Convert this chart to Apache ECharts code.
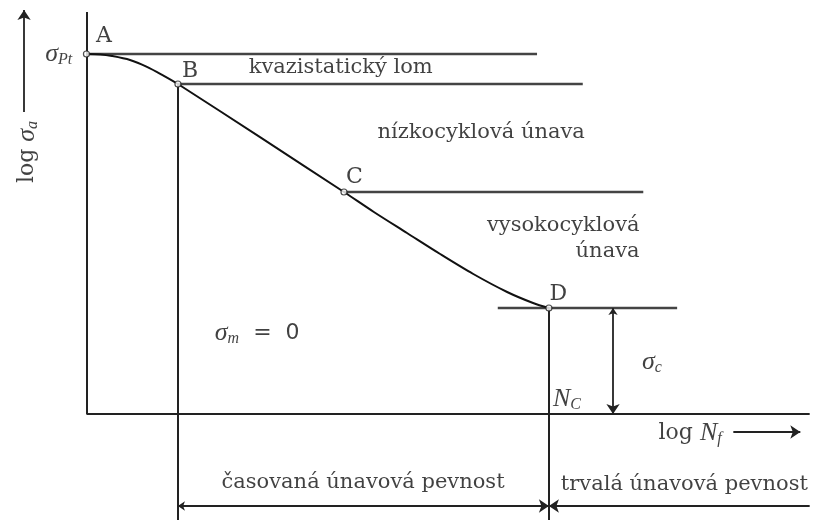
<!DOCTYPE html>
<html>
<head>
<meta charset="utf-8">
<script src="https://cdn.jsdelivr.net/npm/echarts@6/dist/echarts.min.js"></script>
<style>
  html, body { margin: 0; background: #fff; }
  #chart { width: 814px; height: 520px; }
</style>
</head>
<body>
<div id="chart"></div>
<script>
// Wöhler (S-N) diagram: x = log N_f, y = log sigma_a, arbitrary units
const curveLogN = [0, 0.19, 0.355, 0.605, 0.84, 1.05, 1.27, 2.41, 3.575, 3.99, 4.45, 4.91, 5.37, 5.84, 6.2, 6.42];
const curveLogS = [9.0, 8.99, 8.95, 8.85, 8.68, 8.48, 8.25, 6.92, 5.55, 5.05, 4.525, 4.0, 3.5, 3.05, 2.775, 2.65];

const pointNames = ['A', 'B', 'C', 'D'];
const pointLogN = [0, 1.27, 3.575, 6.42];
const pointLogS = [9.0, 8.25, 5.55, 2.65];

// horizontal level lines through A, B, C, D
const levelStart = [0, 1.27, 3.575, 5.71];
const levelEnd = [6.255, 6.89, 7.73, 8.2];

const axisEndN = 10.04;
const axisTopS = 10.05;
const bottomS = -2.65;
const rangeArrowS = -2.3;
const sigmaCArrowN = 7.31;

const regionTexts = ['kvazistatický lom', 'nízkocyklová únava', 'vysokocyklová', 'únava'];
const regionTextN = [3.53, 5.48, 7.685, 7.685];
const regionTextS = [8.65, 7.025, 4.7, 4.05];

const rangeTexts = ['časovaná únavová pevnost', 'trvalá únavová pevnost'];
const rangeTextN = [3.84, 8.3];
const rangeTextS = [-1.725, -1.775];

const serif = "'DejaVu Serif', 'Liberation Serif', serif";
const mathFont = "'Liberation Serif', 'DejaVu Serif', serif";
const ink = '#222';
const textInk = '#111';

const chart = echarts.init(document.getElementById('chart'));

const xy = (n, s) => [n, s];
const seg = (a, b) => ({ coords: [a, b] });

// plain segments
const plainLines = [
  seg(xy(0, 0), xy(0, axisTopS)),
  seg(xy(0, 0), xy(axisEndN, 0)),
  seg(xy(pointLogN[1], pointLogS[1]), xy(pointLogN[1], bottomS)),
  seg(xy(pointLogN[3], pointLogS[3]), xy(pointLogN[3], bottomS))
];
const levelLines = pointNames.map((_, i) =>
  seg(xy(levelStart[i], pointLogS[i]), xy(levelEnd[i], pointLogS[i])));

// arrows point to the second coordinate
const singleArrows = [
  seg(xy(-0.866, 7.55), xy(-0.866, 10.1)),
  seg(xy(8.98, -0.45), xy(9.91, -0.45)),
  seg(xy(axisEndN, rangeArrowS), xy(pointLogN[3], rangeArrowS))
];
const doubleArrows = [
  seg(xy(sigmaCArrowN, pointLogS[3]), xy(sigmaCArrowN, 0)),
  seg(xy(pointLogN[1], rangeArrowS), xy(pointLogN[3], rangeArrowS))
];

const txt = (value, formatter, extra) => ({
  value,
  label: Object.assign({ formatter, position: 'inside' }, extra || {})
});

const rich = {
  r: { fontFamily: serif, fontSize: 21, color: textInk, lineHeight: 26 },
  g: { fontFamily: serif, fontSize: 22, color: textInk, lineHeight: 26 },
  i: { fontFamily: mathFont, fontSize: 26, fontStyle: 'italic', color: textInk, lineHeight: 28 },
  eq: { fontFamily: "'DejaVu Sans', sans-serif", fontSize: 22, color: textInk, lineHeight: 28 },
  sub: { fontFamily: mathFont, fontSize: 16, fontStyle: 'italic', color: textInk, lineHeight: 16, verticalAlign: 'bottom' }
};

const labels = [];
pointNames.forEach((name, i) => {
  const off = [[0.244, 0.45], [0.17, 0.33], [0.145, 0.38], [0.13, 0.35]][i];
  labels.push(txt([pointLogN[i] + off[0], pointLogS[i] + off[1]], '{g|' + name + '}'));
});
regionTexts.forEach((t, i) => {
  const right = i >= 2;
  labels.push(txt([regionTextN[i], regionTextS[i]], '{r|' + t + '}',
    right ? { position: 'left', distance: 0 } : null));
});
rangeTexts.forEach((t, i) => labels.push(txt([rangeTextN[i], rangeTextS[i]], '{r|' + t + '}')));
labels.push(txt([-0.19, 9.0], '{i|σ}{sub|Pt}', { position: 'left', distance: 0 }));
labels.push(txt([2.37, 2.03], '{i|σ}{sub|m}{eq|  =  0}'));
labels.push(txt([7.85, 1.3], '{i|σ}{sub|c}'));
labels.push(txt([6.67, 0.375], '{i|N}{sub|C}'));
labels.push(txt([8.38, -0.475], '{g|log }{i|N}{sub|f}'));
labels.push(txt([-0.825, 6.55], '{g|log }{i|σ}{sub|a}', { rotate: 90 }));

const option = {
  animation: false,
  backgroundColor: '#fff',
  grid: { left: 0, right: 0, top: 0, bottom: 0 },
  xAxis: { type: 'value', min: -1.2, max: 10.1, show: false },
  yAxis: { type: 'value', min: -2.65, max: 10.35, show: false },
  series: [
    {
      type: 'lines', coordinateSystem: 'cartesian2d', symbol: 'none',
      lineStyle: { color: ink, width: 2, opacity: 1 }, data: plainLines
    },
    {
      type: 'lines', coordinateSystem: 'cartesian2d', symbol: 'none',
      lineStyle: { color: '#444', width: 2.4, opacity: 1 }, data: levelLines
    },
    {
      type: 'lines', coordinateSystem: 'cartesian2d', symbol: ['none', 'arrow'], symbolSize: [7, 10],
      lineStyle: { color: ink, width: 1.8, opacity: 1 }, data: singleArrows
    },
    {
      type: 'lines', coordinateSystem: 'cartesian2d', symbol: ['arrow', 'arrow'], symbolSize: [7, 10],
      lineStyle: { color: ink, width: 1.8, opacity: 1 }, data: doubleArrows
    },
    {
      type: 'line', smooth: 0.3, showSymbol: false,
      lineStyle: { color: '#111', width: 2 },
      data: curveLogN.map((n, i) => [n, curveLogS[i]]), z: 3
    },
    {
      type: 'scatter', symbol: 'circle', symbolSize: 6, z: 5,
      itemStyle: { color: '#fff', borderColor: ink, borderWidth: 1.2 },
      data: pointLogN.map((n, i) => [n, pointLogS[i]])
    },
    {
      type: 'scatter', symbolSize: 1, z: 6, silent: true,
      itemStyle: { color: 'rgba(0,0,0,0)' },
      label: { show: true, color: textInk, rich },
      data: labels
    }
  ]
};

chart.setOption(option);
</script>
</body>
</html>
